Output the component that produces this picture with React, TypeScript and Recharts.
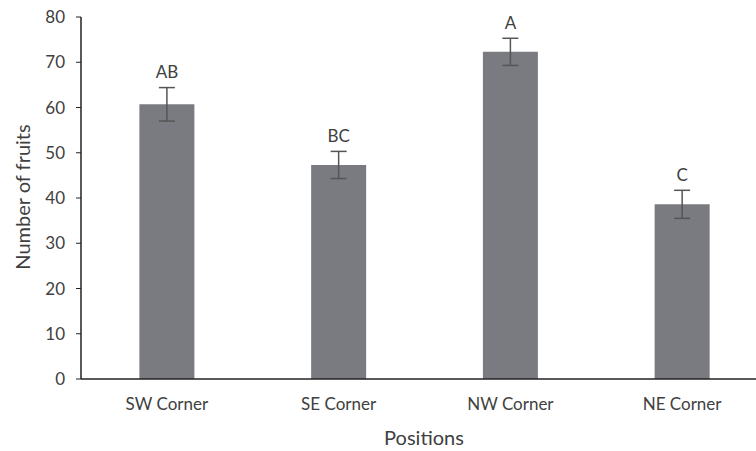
import React from "react";
import { BarChart, Bar, XAxis, YAxis, ErrorBar, LabelList } from "recharts";

const categories = ["SW Corner", "SE Corner", "NW Corner", "NE Corner"];
const means = [60.7, 47.3, 72.3, 38.6];
const errors = [3.7, 3.0, 3.0, 3.1];
const letters = ["AB", "BC", "A", "C"];
const yTicks = [0, 10, 20, 30, 40, 50, 60, 70, 80];

const data = categories.map((c, i) => ({ name: c, value: means[i], err: errors[i], letter: letters[i] }));

const FONT = "Lato, 'Open Sans', sans-serif";
const TXT = "#404040";

const LetterLabel = (props: any) => {
  const { x, y, width, height, index } = props;
  const v = means[index];
  const e = errors[index];
  const pxPerUnit = height / v;
  const cy = y - e * pxPerUnit - 16;
  return (
    <text x={x + width / 2} y={cy} textAnchor="middle" dominantBaseline="central" fontSize={17} fill={TXT} fontFamily={FONT}>
      {letters[index]}
    </text>
  );
};

export default function App() {
  return (
    <div style={{ position: "absolute", left: 0, top: 0, width: 756, height: 451, overflow: "hidden", background: "#fff" }}>
      <BarChart width={768} height={451} data={data} margin={{ top: 17, right: 0, left: 0, bottom: 0 }} barCategoryGap="34%">
        <XAxis
          dataKey="name"
          tickLine={false}
          axisLine={{ stroke: "#222", strokeWidth: 1.5 }}
          tick={{ fill: TXT, fontSize: 17, fontFamily: FONT }}
          tickMargin={13}
          height={72}
          label={(p: any) => (
            <text x={424} y={437} textAnchor="middle" dominantBaseline="central" fontSize={20} fill={TXT} fontFamily={FONT}>
              Positions
            </text>
          )}
        />
        <YAxis
          width={81}
          domain={[0, 80]}
          ticks={yTicks}
          interval={0}
          tickLine={{ stroke: "#222" }}
          tickSize={5}
          axisLine={{ stroke: "#222", strokeWidth: 1.5 }}
          tick={{ fill: TXT, fontSize: 17, fontFamily: FONT }}
          tickMargin={11}
          label={(p: any) => (
            <text x={22} y={197} transform="rotate(-90 22 197)" textAnchor="middle" dominantBaseline="central" fontSize={20} fill={TXT} fontFamily={FONT}>
              Number of fruits
            </text>
          )}
        />
        <Bar dataKey="value" fill="#7a7b80" isAnimationActive={false}>
          <ErrorBar dataKey="err" width={8} stroke="#555" strokeWidth={1.5} isAnimationActive={false} />
          <LabelList dataKey="letter" content={<LetterLabel />} />
        </Bar>
      </BarChart>
    </div>
  );
}
